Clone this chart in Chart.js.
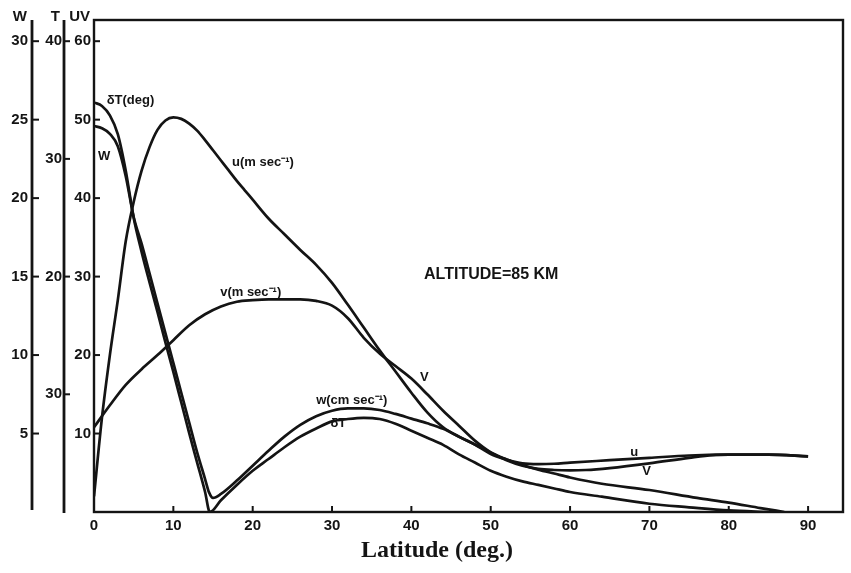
<!DOCTYPE html>
<html>
<head>
<meta charset="utf-8">
<script src="https://cdn.jsdelivr.net/npm/chart.js@4"></script>
<style>
body { margin: 0; background: #fff; }
</style>
</head>
<body>
<canvas id="mycanvas" width="851" height="573"></canvas>
<script>
// zonal wind u (m/s)
var latU = [0,1,2,3,4,5,6,7,8,9,10,11,12,13,14,15,16,17,18,19,20,22,24,26,28,30,32,34,36,38,40,42,44,46,48,50,52,54,56,58,60,65,70,75,80,85,90];
var uWind = [2,12,20,27,34.5,39.5,43.5,46.5,48.7,49.9,50.3,50.1,49.5,48.6,47.4,46.1,44.8,43.5,42.2,41,39.8,37.4,35.4,33.4,31.5,29.2,26.4,23.5,20.6,17.9,15.2,12.7,10.8,9.6,8.6,7.4,6.7,6.2,6.1,6.15,6.3,6.6,6.9,7.2,7.3,7.3,7.1];

// meridional wind v (m/s)
var latV = [0,2,4,6,8,10,12,14,16,18,20,22,24,26,28,30,32,34,36,38,40,42,44,46,48,50,52,54,56,58,60,62,65,70,75,78,80,85,90];
var vWind = [10.8,13.6,16.2,18.2,20.0,21.9,23.8,25.2,26.2,26.8,27.0,27.1,27.1,27.1,26.9,26.3,24.7,22.2,20.2,18.6,17.0,15.0,12.9,11.0,9.1,7.6,6.6,5.9,5.5,5.35,5.3,5.35,5.6,6.2,6.9,7.25,7.3,7.3,7.1];

// vertical wind w (cm/s)
var latW = [0,1,2,3,4,5,6,7,8,9,10,11,12,13,14,14.5,15,16,18,20,22,24,26,28,30,32,34,36,38,40,42,44,46,48,50,52,54,56,58,60,64,70,76,80,84,87];
var wVals = [24.6,24.45,24.1,23.3,21.4,18.8,17.1,15.2,13.3,11.4,9.5,7.6,5.7,3.8,2.1,1.25,0.9,1.15,2.0,2.95,3.9,4.8,5.55,6.1,6.45,6.6,6.6,6.5,6.25,5.95,5.65,5.3,4.8,4.3,3.8,3.35,3.0,2.7,2.45,2.2,1.8,1.4,0.9,0.6,0.25,0];

// temperature amplitude dT (deg)
var latT = [0,1,2,3,4,5,6,7,8,9,10,11,12,13,14,14.6,16,18,20,22,24,26,28,30,32,34,36,38,40,42,44,46,48,50,52,54,56,58,60,64,70,75,80,85];
var tVals = [34.8,34.5,33.7,32.1,29.0,25.0,22.1,19.5,17.0,14.4,11.9,9.3,6.7,4.2,1.7,0,1.0,2.3,3.5,4.5,5.5,6.4,7.1,7.7,7.9,8.0,7.9,7.5,6.9,6.3,5.7,4.9,4.2,3.5,3.0,2.6,2.3,2.0,1.7,1.3,0.7,0.4,0.13,0];

// tick values and labels
var latTicks = [0,10,20,30,40,50,60,70,80,90];
var uvTicks = [10,20,30,40,50,60];
var wTicks = [5,10,15,20,25,30];
var tTicks = [10,20,30,40];
var tTickLabels = ['30','20','30','40'];

// text written beside the curves: [text, latitude, uv value]
var notes = [
	['δT(deg)', 1.6, 52.4],
	['W', 0.5, 45.3],
	['u(m sec⁻¹)', 17.4, 44.6],
	['v(m sec⁻¹)', 15.9, 28.0],
	['V', 41.1, 17.1],
	['w(cm sec⁻¹)', 28, 14.2],
	['δT', 29.8, 11.3],
	['u', 67.6, 7.6],
	['V', 69.1, 5.2]
];

var ink = '#141414';
var uvMax = 62.7;

function pts(xs, ys) {
	return xs.map(function(x, i) { return {x: x, y: ys[i]}; });
}

function curve(label, xs, ys, axis) {
	return {
		label: label,
		data: pts(xs, ys),
		yAxisID: axis,
		borderColor: ink,
		borderWidth: 2.7,
		pointRadius: 0,
		fill: false,
		cubicInterpolationMode: 'monotone'
	};
}

function seg(ctx, x1, y1, x2, y2) {
	ctx.beginPath();
	ctx.moveTo(x1, y1);
	ctx.lineTo(x2, y2);
	ctx.stroke();
}

function fixTicks(values) {
	return function(axis) {
		axis.ticks = values.map(function(v) { return {value: v}; });
	};
}

var tickFont = {family: 'Liberation Sans', size: 15, weight: 'bold'};

function yAxis(max, weight, width, pad, values) {
	return {
		type: 'linear',
		position: 'left',
		min: 0,
		max: max,
		weight: weight,
		grid: {display: false, drawTicks: false},
		border: {display: false},
		ticks: {color: ink, font: tickFont, padding: pad, autoSkip: false},
		afterBuildTicks: fixTicks(values),
		afterFit: function(s) { s.width = width; }
	};
}

// box, extra axis lines, tick dashes and the written labels
var axesFrame = {
	id: 'axesFrame',
	afterDraw: function(chart) {
		var ctx = chart.ctx, a = chart.chartArea, s = chart.scales;
		ctx.save();
		ctx.strokeStyle = ink;
		ctx.fillStyle = ink;

		ctx.lineWidth = 2.4;
		ctx.strokeRect(a.left, a.top, a.right - a.left, a.bottom - a.top);

		var wx = s.yW.right - 7, tx = s.yT.right - 6;
		ctx.lineWidth = 2.8;
		seg(ctx, wx, a.top, wx, a.bottom - 2);
		seg(ctx, tx, a.top, tx, a.bottom + 1);

		ctx.lineWidth = 2;
		wTicks.forEach(function(v) {
			var y = s.yW.getPixelForValue(v);
			seg(ctx, wx, y, wx + 7, y);
		});
		tTicks.forEach(function(v) {
			var y = s.yT.getPixelForValue(v);
			seg(ctx, tx, y, tx + 6, y);
		});
		uvTicks.forEach(function(v) {
			var y = s.yUV.getPixelForValue(v);
			seg(ctx, a.left, y, a.left + 6, y);
		});
		latTicks.slice(1).forEach(function(v) {
			var x = s.x.getPixelForValue(v);
			seg(ctx, x, a.bottom, x, a.bottom - 6);
		});

		ctx.font = 'bold 15px "Liberation Sans"';
		ctx.textAlign = 'right';
		ctx.textBaseline = 'middle';
		ctx.fillText('W', wx - 5, 17);
		ctx.fillText('T', tx - 4, 17);
		ctx.fillText('UV', a.left - 4, 17);

		ctx.textAlign = 'left';
		ctx.font = 'bold 13px "Liberation Sans"';
		notes.forEach(function(n) {
			ctx.fillText(n[0], s.x.getPixelForValue(n[1]), s.yUV.getPixelForValue(n[2]));
		});
		ctx.font = 'bold 16px "Liberation Sans"';
		ctx.fillText('ALTITUDE=85 KM', s.x.getPixelForValue(41.6), s.yUV.getPixelForValue(30.3));

		ctx.textAlign = 'center';
		ctx.textBaseline = 'alphabetic';
		ctx.font = 'bold 24px "Liberation Serif"';
		ctx.fillText('Latitude (deg.)', 437, 557);
		ctx.restore();
	}
};

var ctx = document.getElementById('mycanvas');

var chart = new Chart(ctx, {
	type: 'line',
	data: {
		datasets: [
			curve('u', latU, uWind, 'yUV'),
			curve('v', latV, vWind, 'yUV'),
			curve('w', latW, wVals, 'yW'),
			curve('dT', latT, tVals, 'yT')
		]
	},
	options: {
		responsive: false,
		devicePixelRatio: 1,
		animation: false,
		layout: {padding: {top: 17, right: 8, left: 0, bottom: 0}},
		plugins: {legend: {display: false}, tooltip: {enabled: false}},
		scales: {
			x: {
				type: 'linear',
				position: 'bottom',
				min: 0,
				max: 94.4,
				grid: {display: false, drawTicks: false},
				border: {display: false},
				ticks: {color: ink, font: tickFont, padding: 5, autoSkip: false, maxRotation: 0},
				afterBuildTicks: fixTicks(latTicks),
				afterFit: function(s) { s.height = 61; }
			},
			yUV: yAxis(uvMax, 0, 24, 3, uvTicks),
			yT: yAxis(uvMax * 2 / 3, 1, 31, 8, tTicks),
			yW: yAxis(uvMax / 2, 2, 39, 11, wTicks)
		}
	},
	plugins: [axesFrame]
});

chart.options.scales.yT.ticks.callback = function(value, index) { return tTickLabels[index]; };
chart.update();
</script>
</body>
</html>
